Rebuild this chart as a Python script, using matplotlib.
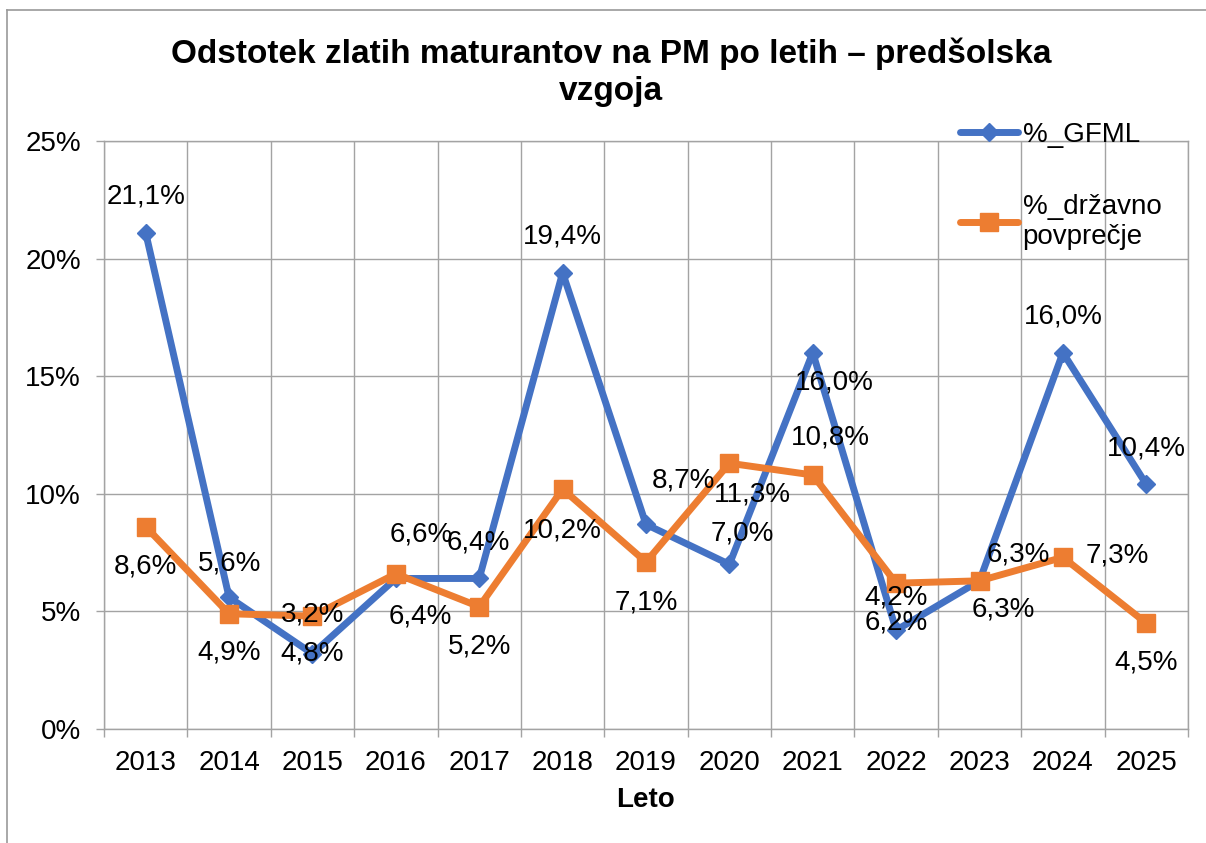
import matplotlib
matplotlib.use("Agg")
import matplotlib.pyplot as plt
from matplotlib.lines import Line2D
from matplotlib.ticker import FuncFormatter, FixedLocator

plt.rcParams['font.family'] = ['Liberation Sans', 'DejaVu Sans']

# ---- data ----
years = ["2013", "2014", "2015", "2016", "2017", "2018", "2019",
         "2020", "2021", "2022", "2023", "2024", "2025"]
gfml = [21.1, 5.6, 3.2, 6.4, 6.4, 19.4, 8.7, 7.0, 16.0, 4.2, 6.3, 16.0, 10.4]
drzavno = [8.6, 4.9, 4.8, 6.6, 5.2, 10.2, 7.1, 11.3, 10.8, 6.2, 6.3, 7.3, 4.5]
series_names = ["%_GFML", "%_državno\npovprečje"]
title = "Odstotek zlatih maturantov na PM po letih – predšolska\nvzgoja"
xlabel = "Leto"

# label offsets (pixels) relative to each point - styling only
gfml_off = [(0, 36), (0, 34), (0, 39), (24, -38), (-1, 36), (0, 36), (37, 44),
            (13, 31), (22, -30), (0, 33), (39, 26), (0, 36), (0, 36)]
drz_off = [(0, -40), (0, -39), (0, -37), (25, 39), (0, -40), (0, -41), (0, -40),
           (23, -31), (18, 37), (0, -39), (24, -29), (54, 2), (0, -39)]

BLUE = "#4472C4"
ORANGE = "#ED7D31"
GRID = "#A3A3A3"
FS = 20

W, H = 1206, 843
fig = plt.figure(figsize=(W / 100, H / 100), dpi=100)
ax = fig.add_axes([104 / W, (H - 729) / H, (1188 - 104) / W, (729 - 141) / H])

x = list(range(len(years)))
ax.plot(x, gfml, color=BLUE, lw=5, marker='D', ms=9.5, mec=BLUE, mfc=BLUE,
        solid_joinstyle='round', solid_capstyle='round', zorder=3, label=series_names[0])
ax.plot(x, drzavno, color=ORANGE, lw=5, marker='s', ms=12.5, mec=ORANGE, mfc=ORANGE,
        solid_joinstyle='round', solid_capstyle='round', zorder=4, label=series_names[1])

def fmt(v):
    return f"{v:.1f}%".replace('.', ',')

for xi, v, off in zip(x, gfml, gfml_off):
    ax.annotate(fmt(v), (xi, v), xytext=off, textcoords='offset pixels',
                ha='center', va='center', fontsize=FS, color='black', zorder=6,
                annotation_clip=False)
for xi, v, off in zip(x, drzavno, drz_off):
    ax.annotate(fmt(v), (xi, v), xytext=off, textcoords='offset pixels',
                ha='center', va='center', fontsize=FS, color='black', zorder=6,
                annotation_clip=False)

ax.set_xlim(-0.5, len(years) - 0.5)
ax.set_ylim(0, 25)
ax.yaxis.set_major_locator(FixedLocator([0, 5, 10, 15, 20, 25]))
ax.yaxis.set_major_formatter(FuncFormatter(lambda v, p: f"{v:.0f}%"))
ax.set_xticks(x)
ax.set_xticklabels(years)
ax.set_xticks([i - 0.5 for i in range(len(years) + 1)], minor=True)

ax.tick_params(axis='x', which='major', length=0, pad=15, labelsize=FS)
ax.tick_params(axis='x', which='minor', length=6, width=1, color=GRID)
ax.tick_params(axis='y', which='major', length=5.5, width=1, color=GRID, pad=11, labelsize=FS)

ax.grid(True, axis='y', which='major', color=GRID, lw=1, zorder=0)
ax.grid(True, axis='x', which='minor', color=GRID, lw=1, zorder=0)
ax.set_axisbelow(True)
for s in ax.spines.values():
    s.set_color(GRID)
    s.set_linewidth(1)

ax.set_xlabel(xlabel, fontsize=FS, fontweight='bold', labelpad=8)

fig.text(611 / W, 1 - 72 / H, title, ha='center', va='center', fontsize=24,
         fontweight='bold', linespacing=1.25)

leg = ax.legend(loc='upper left', bbox_to_anchor=(960 / W, 1 - 122 / H),
                bbox_transform=fig.transFigure, frameon=False, fontsize=FS,
                handlelength=2.1, handletextpad=0.15, labelspacing=1.65,
                borderpad=0, borderaxespad=0)

# outer chart border
fig.add_artist(Line2D([7 / W, 7 / W], [0, 1 - 10 / H], transform=fig.transFigure,
                      color="#9A9A9A", lw=1.2))
fig.add_artist(Line2D([7 / W, 1], [1 - 10 / H, 1 - 10 / H], transform=fig.transFigure,
                      color="#9A9A9A", lw=1.2))

fig.savefig("out.png", dpi=100)
